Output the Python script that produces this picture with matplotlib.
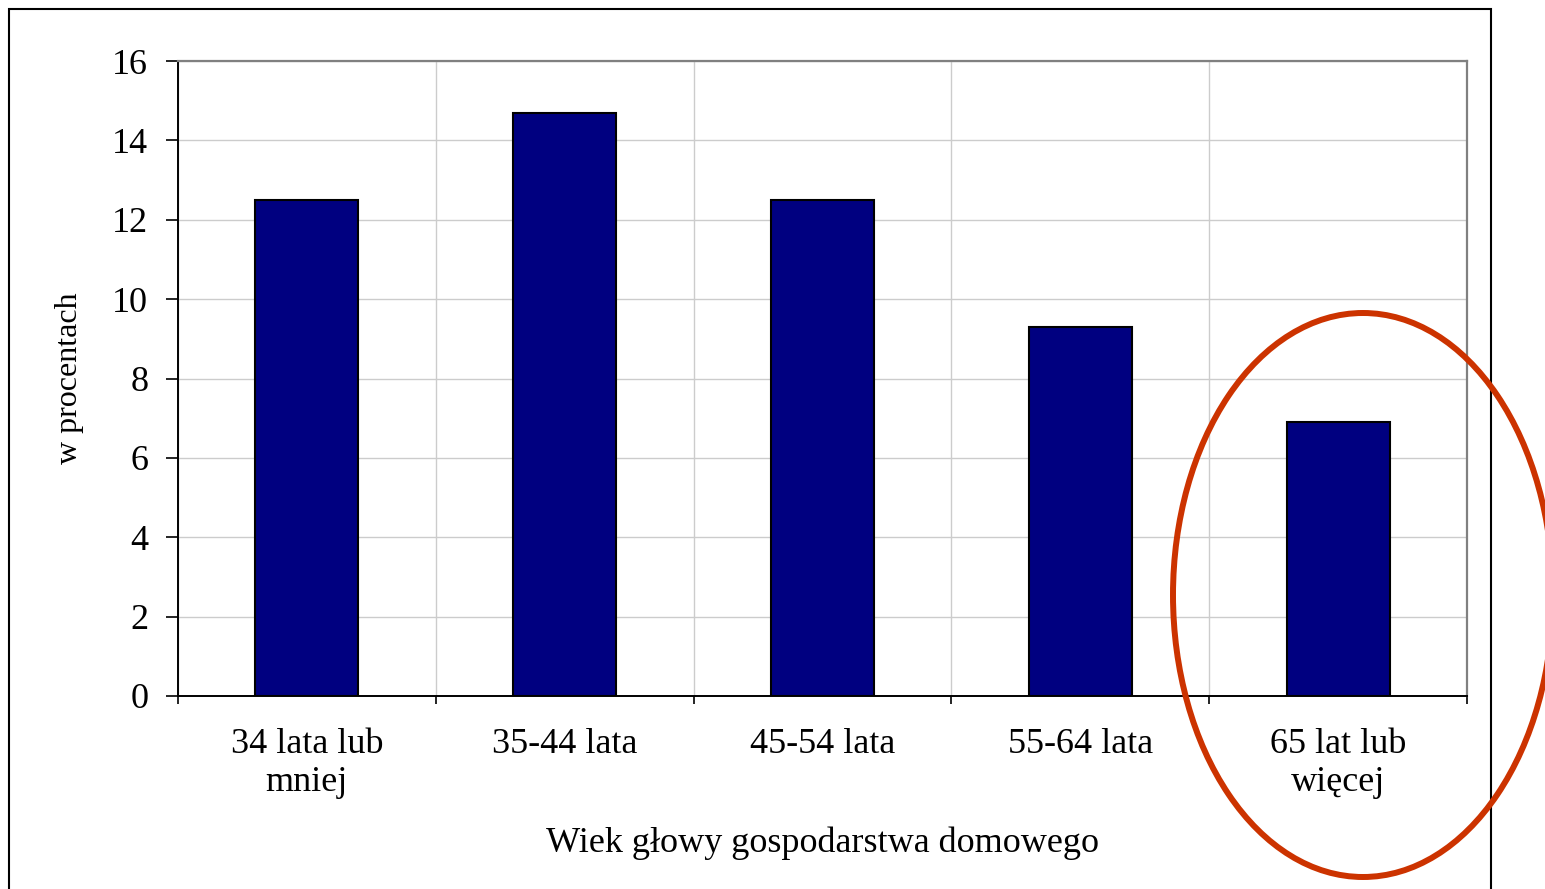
import matplotlib
matplotlib.use("Agg")
import matplotlib.pyplot as plt
from matplotlib.patches import Ellipse, Rectangle

# === DATA ===
categories = ["34 lata lub\nmniej", "35-44 lata", "45-54 lata", "55-64 lata", "65 lat lub\nwięcej"]
values = [12.5, 14.7, 12.5, 9.3, 6.9]
y_ticks = [0, 2, 4, 6, 8, 10, 12, 14, 16]
x_label = "Wiek głowy gospodarstwa domowego"
y_label = "w procentach"
# =============

plt.rcParams['font.family'] = ['Liberation Serif', 'DejaVu Serif']

fig = plt.figure(figsize=(15.45, 8.89), dpi=100)
ax = fig.add_axes([178 / 1545, 193 / 889, 1289 / 1545, 635 / 889])

x = list(range(len(categories)))
ax.bar(x, values, width=0.4, color='#000080', edgecolor='black', linewidth=1.5, zorder=3)

ax.set_xlim(-0.5, len(categories) - 0.5)
ax.set_ylim(0, 16)
ax.set_yticks(y_ticks)
ax.tick_params(axis='y', labelsize=26, length=8.5, width=1.2, pad=13, direction='out')

# ticks at category borders, labels at centers
ax.set_xticks([i - 0.5 for i in range(len(categories) + 1)])
ax.set_xticklabels([])
ax.set_xticks(x, minor=True)
ax.set_xticklabels(categories, minor=True, fontsize=26, linespacing=1.2)
ax.tick_params(axis='x', which='major', length=6, width=1.2, direction='out')
ax.tick_params(axis='x', which='minor', length=0, pad=23)

ax.grid(True, which='major', color='#cccccc', linewidth=1, zorder=0)
ax.set_axisbelow(True)

for side in ['top', 'right']:
    ax.spines[side].set_color('#808080')
    ax.spines[side].set_linewidth(1.6)
for side in ['left', 'bottom']:
    ax.spines[side].set_color('black')
    ax.spines[side].set_linewidth(1.4)

ax.set_xlabel(x_label, fontsize=26)
ax.xaxis.set_label_coords(0.5, (63 - 193) / 635)
ax.set_ylabel(y_label, fontsize=23)
ax.yaxis.set_label_coords((84 - 178) / 1289, 0.5)

# outer chart frame
fig.add_artist(Rectangle((9 / 1545, -0.05), (1491 - 9) / 1545, (889 - 9) / 889 + 0.05,
                         transform=fig.transFigure, fill=False, edgecolor='black',
                         linewidth=1.5, clip_on=False))

# highlight circle
fig.add_artist(Ellipse((1363 / 1545, 294 / 889), 380 / 1545, 564 / 889,
                       transform=fig.transFigure, fill=False, edgecolor='#cc3300',
                       linewidth=4.3, clip_on=False))

fig.savefig("out.png", dpi=100)
